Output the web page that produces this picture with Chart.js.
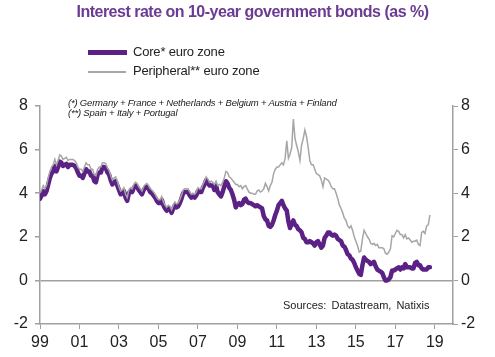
<!DOCTYPE html>
<html><head><meta charset="utf-8">
<script src="https://cdn.jsdelivr.net/npm/chart.js@4"></script>
<style>
html,body{margin:0;padding:0;background:#fff;}
#wrap{position:relative;width:495px;height:357px;font-family:"Liberation Sans",Arial,sans-serif;}
canvas{position:absolute;left:0;top:0;}
.t{position:absolute;white-space:nowrap;}
</style></head><body>
<div id="wrap">
<canvas id="c" width="495" height="357"></canvas>
<div class="t" id="title" style="left:0;width:505px;text-align:center;top:3px;font-size:16px;font-weight:bold;color:#6b3a92;letter-spacing:-0.5px;">Interest rate on 10-year government bonds (as %)</div>
<div style="position:absolute;left:88px;top:50px;width:39px;height:5px;background:#5b2185;"></div>
<div class="t" style="left:133px;top:44px;font-size:13px;color:#222;letter-spacing:-0.2px;">Core* euro zone</div>
<div style="position:absolute;left:88px;top:71px;width:38px;height:1.5px;background:#a6a6a6;"></div>
<div class="t" style="left:133px;top:63px;font-size:13px;color:#222;letter-spacing:-0.2px;">Peripheral** euro zone</div>
<div class="t" style="left:68px;top:97px;font-size:9.5px;font-style:italic;color:#222;letter-spacing:-0.2px;">(*) Germany + France + Netherlands + Belgium + Austria + Finland</div>
<div class="t" style="left:68px;top:107px;font-size:9.5px;font-style:italic;color:#222;letter-spacing:-0.2px;">(**) Spain + Italy + Portugal</div>
<div class="t" style="left:283px;top:299px;font-size:11px;color:#222;word-spacing:2px;">Sources: Datastream, Natixis</div>
</div>
<script>
const startYear = 1999;
const tickYears = [1999,2001,2003,2005,2007,2009,2011,2013,2015,2017,2019];
const tickLabels = ["99","01","03","05","07","09","11","13","15","17","19"];
const yTicks = [-2,0,2,4,6,8];

// Monthly values, Jan 1999 .. Oct 2018
const coreEuroZone = [
 3.75,3.9,4.1,3.95,4.1,4.4,4.7,4.9,5.0,5.25,5.0,5.2,
 5.45,5.4,5.25,5.3,5.35,5.2,5.3,5.3,5.3,5.25,5.15,4.95,
 4.8,4.8,4.7,4.9,5.1,5.0,5.0,4.8,4.8,4.55,4.5,4.85,
 4.95,4.95,5.2,5.2,5.15,4.95,4.85,4.6,4.4,4.5,4.55,4.35,
 4.15,3.95,4.0,4.1,3.8,3.65,4.0,4.1,4.05,4.25,4.35,4.3,
 4.15,4.05,3.95,4.15,4.25,4.3,4.2,4.05,4.0,3.9,3.8,3.65,
 3.55,3.55,3.7,3.45,3.3,3.2,3.3,3.25,3.1,3.3,3.45,3.35,
 3.4,3.55,3.75,4.0,4.05,4.05,4.05,3.9,3.8,3.85,3.8,3.9,
 4.1,4.05,4.05,4.25,4.4,4.6,4.5,4.35,4.35,4.35,4.15,4.35,
 4.05,3.95,3.85,4.05,4.3,4.55,4.45,4.25,4.15,3.95,3.7,3.35,
 3.5,3.55,3.45,3.5,3.7,3.75,3.6,3.55,3.55,3.5,3.45,3.4,
 3.45,3.4,3.35,3.3,2.95,2.8,2.75,2.5,2.45,2.55,2.75,3.0,
 3.2,3.45,3.55,3.65,3.45,3.3,3.2,2.7,2.4,2.6,2.75,2.55,
 2.5,2.35,2.3,2.2,1.95,1.9,1.75,1.75,1.8,1.75,1.7,1.6,
 1.75,1.8,1.65,1.5,1.6,1.95,2.05,2.2,2.2,2.1,2.05,2.1,
 2.05,1.9,1.85,1.8,1.6,1.55,1.4,1.2,1.15,1.0,0.95,0.8,
 0.6,0.45,0.3,0.25,0.7,1.05,0.95,0.9,0.85,0.75,0.8,0.85,
 0.65,0.5,0.45,0.4,0.35,0.15,0.0,0.0,0.05,0.15,0.45,0.45,
 0.5,0.55,0.6,0.5,0.6,0.55,0.75,0.6,0.6,0.6,0.55,0.55,
 0.8,0.85,0.7,0.7,0.55,0.5,0.5,0.5,0.6,0.6
];
const peripheralEuroZone = [
 4.0,4.15,4.35,4.2,4.35,4.7,5.0,5.2,5.3,5.55,5.3,5.5,
 5.75,5.7,5.55,5.6,5.65,5.5,5.55,5.55,5.55,5.5,5.4,5.2,
 5.1,5.1,5.0,5.2,5.4,5.3,5.3,5.1,5.1,4.85,4.8,5.1,
 5.2,5.2,5.4,5.4,5.35,5.15,5.05,4.8,4.6,4.7,4.75,4.55,
 4.3,4.1,4.15,4.25,3.95,3.8,4.15,4.25,4.2,4.4,4.5,4.45,
 4.3,4.2,4.1,4.3,4.4,4.45,4.35,4.2,4.15,4.05,3.95,3.8,
 3.7,3.7,3.85,3.6,3.45,3.35,3.45,3.4,3.25,3.45,3.6,3.5,
 3.55,3.7,3.9,4.15,4.2,4.2,4.2,4.05,3.95,4.0,3.95,4.05,
 4.25,4.2,4.2,4.4,4.55,4.75,4.65,4.5,4.55,4.5,4.4,4.55,
 4.35,4.4,4.35,4.5,4.7,5.0,4.95,4.75,4.7,4.6,4.5,4.4,
 4.4,4.3,4.35,4.2,4.3,4.35,4.2,4.05,4.0,4.0,3.95,3.95,
 4.1,4.15,4.05,4.1,4.2,4.45,4.3,4.1,4.35,4.5,4.9,5.1,
 5.2,5.2,5.3,5.4,5.3,5.6,6.4,5.6,5.8,6.1,7.4,6.5,
 6.2,5.9,5.5,6.2,6.5,6.9,6.6,6.1,5.5,5.3,5.3,5.1,
 4.9,4.85,4.8,4.6,4.3,4.7,4.65,4.6,4.5,4.3,4.2,4.2,
 4.0,3.75,3.45,3.3,3.1,2.85,2.75,2.5,2.4,2.5,2.3,2.0,
 1.8,1.6,1.3,1.35,1.9,2.3,2.15,2.0,1.9,1.7,1.65,1.7,
 1.6,1.65,1.5,1.5,1.5,1.45,1.25,1.2,1.3,1.45,2.05,2.0,
 2.15,2.3,2.25,2.1,2.1,1.95,2.1,1.9,1.95,1.85,1.75,1.8,
 1.8,1.85,1.65,1.6,2.2,2.25,2.15,2.5,2.55,3.0
];

const toXY = arr => arr.map((v,i)=>({x: startYear + i/12, y: v}));
const axisGray = '#a0a0a0';
const tickFont = {family:"'Liberation Sans', Arial, sans-serif", size:16};

new Chart(document.getElementById('c'), {
  type:'line',
  data:{datasets:[
    {label:'Peripheral** euro zone', data:toXY(peripheralEuroZone), borderColor:'#a6a6a6', borderWidth:1.5, pointRadius:0, tension:0, order:0, yAxisID:'y'},
    {label:'Core* euro zone', data:toXY(coreEuroZone), borderColor:'#5b2185', borderWidth:4.5, pointRadius:0, tension:0, order:1, yAxisID:'y', borderJoinStyle:'round', borderCapStyle:'round'}
  ]},
  options:{
    responsive:false, animation:false,
    layout:{padding:{top:106,left:0,right:0,bottom:0}},
    plugins:{legend:{display:false}, title:{display:false}, tooltip:{enabled:false}},
    scales:{
      x:{type:'linear', min:1999, max:2019.92,
        afterBuildTicks: s => { s.ticks = tickYears.map(v=>({value:v})); },
        afterFit: s => { s.height = 33; },
        ticks:{color:'#222', font:tickFont, padding:4, maxRotation:0, autoSkip:false,
          callback:(v)=>{ const i = tickYears.indexOf(v); return i>=0 ? tickLabels[i] : ''; }},
        grid:{drawOnChartArea:false, tickLength:5, color:axisGray},
        border:{color:axisGray, width:1.5}
      },
      y:{position:'left', min:-2, max:8,
        afterBuildTicks: s => { s.ticks = yTicks.map(v=>({value:v})); },
        afterFit: s => { s.width = 40; },
        ticks:{color:'#222', font:tickFont, padding:7},
        grid:{drawOnChartArea:true, tickLength:5, tickColor:axisGray,
          color: c => (c.tick && c.tick.value===0) ? axisGray : 'rgba(0,0,0,0)', lineWidth:1.5},
        border:{color:axisGray, width:1.5}
      },
      y2:{position:'right', min:-2, max:8,
        afterBuildTicks: s => { s.ticks = yTicks.map(v=>({value:v})); },
        afterFit: s => { s.width = 42; },
        ticks:{color:'#222', font:tickFont, padding:3},
        grid:{drawOnChartArea:false, tickLength:5, color:axisGray},
        border:{color:axisGray, width:1.5}
      }
    }
  }
});
</script>
</body></html>
